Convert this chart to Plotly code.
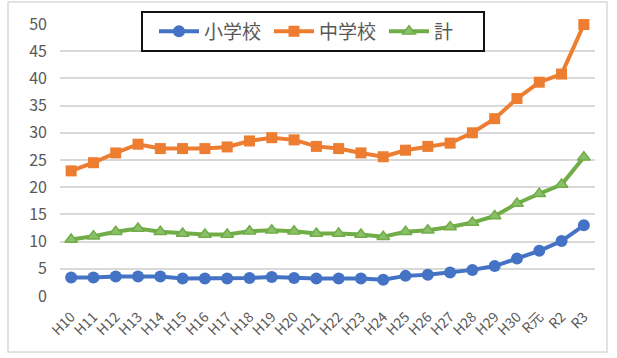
import plotly.graph_objects as go

years = ["H10","H11","H12","H13","H14","H15","H16","H17","H18","H19","H20","H21",
         "H22","H23","H24","H25","H26","H27","H28","H29","H30","R元","R2","R3"]
elementary = [3.4,3.4,3.6,3.6,3.6,3.2,3.2,3.2,3.3,3.5,3.3,3.2,
              3.2,3.2,3.0,3.7,3.9,4.3,4.8,5.5,6.9,8.3,10.1,13.0]
junior = [23.0,24.5,26.3,27.9,27.1,27.1,27.1,27.4,28.5,29.1,28.7,27.5,
          27.1,26.3,25.6,26.8,27.5,28.1,30.0,32.6,36.3,39.3,40.8,49.9]
total = [10.4,11.0,11.8,12.4,11.8,11.5,11.3,11.3,11.9,12.1,11.9,11.5,
         11.5,11.3,10.9,11.8,12.1,12.7,13.5,14.7,17.0,18.8,20.5,25.5]
yticks = [0,5,10,15,20,25,30,35,40,45,50]

font_family = "Noto Sans CJK JP, Noto Sans, sans-serif"
fig = go.Figure()
fig.add_trace(go.Scatter(x=years, y=elementary, name="小学校", mode="lines+markers",
                         line=dict(color="#4472C4", width=4),
                         marker=dict(symbol="circle", size=12, color="#4472C4"),
                         cliponaxis=False))
fig.add_trace(go.Scatter(x=years, y=junior, name="中学校", mode="lines+markers",
                         line=dict(color="#ED7D31", width=4),
                         marker=dict(symbol="square", size=11, color="#ED7D31"),
                         cliponaxis=False))
fig.add_trace(go.Scatter(x=years, y=total, name="計", mode="lines+markers",
                         line=dict(color="#70AD47", width=4),
                         marker=dict(symbol="triangle-up", size=11, color="#8BC06A",
                                     line=dict(color="#70AD47", width=1.5)),
                         cliponaxis=False))

PW, PH, L, T = 535, 272, 60, 24
def px(x):
    return (x - L) / PW
def py(y):
    return (T + PH - y) / PH

fig.update_layout(
    width=617, height=358,
    margin=dict(l=60, r=22, t=24, b=62),
    paper_bgcolor="white", plot_bgcolor="white",
    font=dict(family=font_family, color="#595959", size=14),
    showlegend=True,
    legend=dict(orientation="h", x=px(154), y=py(31.5), xanchor="left", yanchor="middle",
                borderwidth=0, bgcolor="rgba(0,0,0,0)",
                font=dict(size=19, color="#595959"), itemwidth=40,
                entrywidth=60, entrywidthmode="pixels"),
    xaxis=dict(type="category", range=[-0.5, 23.5], tickangle=-45,
               tickfont=dict(size=14, color="#595959"), showgrid=False,
               showline=False, ticks="", ticklabelstandoff=9),
    yaxis=dict(range=[0, 50], tickvals=yticks, showgrid=True, gridcolor="#D9D9D9",
               gridwidth=1.5, zeroline=False, tickfont=dict(size=16, color="#595959"),
               ticks="", ticklabelstandoff=12),
    shapes=[dict(type="rect", xref="paper", yref="paper",
                 x0=px(8), x1=px(607), y0=py(352), y1=py(2),
                 line=dict(color="#D9D9D9", width=1.5), layer="below"),
            dict(type="rect", xref="paper", yref="paper",
                 x0=px(142), x1=px(484), y0=py(51), y1=py(12),
                 line=dict(color="#111111", width=2), fillcolor="white", layer="above")],
)
fig.write_html("out.html")
